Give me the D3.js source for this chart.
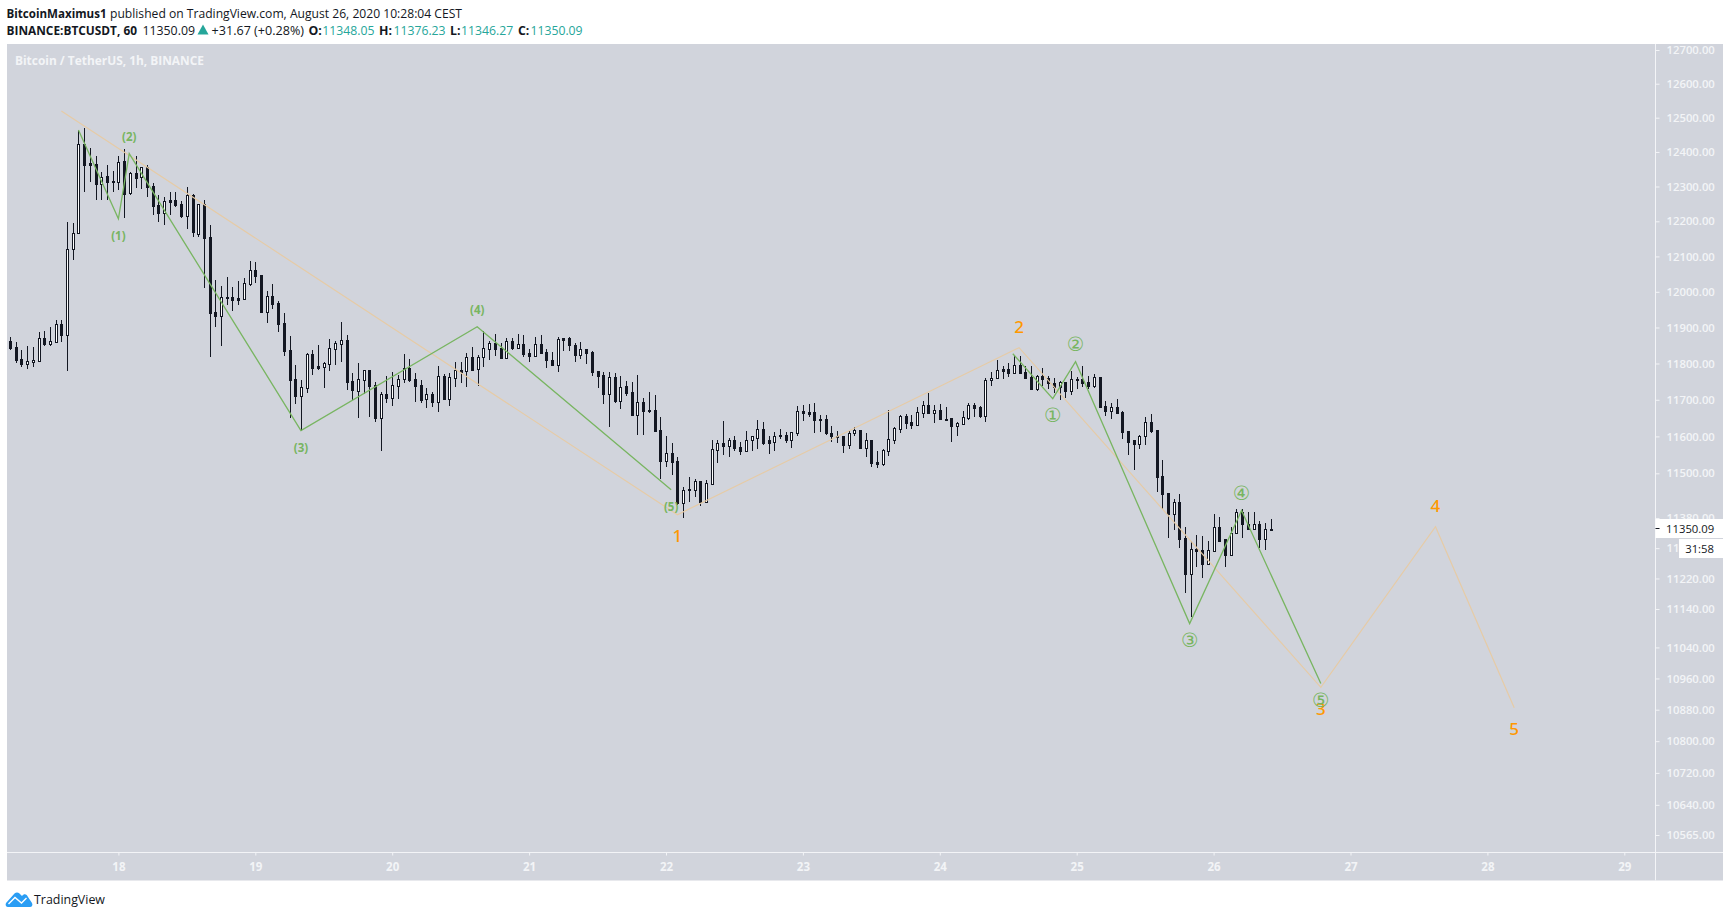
<!DOCTYPE html>
<html>
<head>
<meta charset="utf-8">
<title>BTCUSDT</title>
<script src="https://cdnjs.cloudflare.com/ajax/libs/d3/7.8.5/d3.min.js"></script>
<style>
    html, body { margin: 0; padding: 0; background: #fff; }
    svg { display: block; }
</style>
</head>
<body>
<div id="chart"></div>
<script>
// candles, one per hour, first one is Aug 17 05:00 (hour 0 = Aug 18 00:00)
const firstHour = -19;

const opens = [
    11863,11846,11813,11799,11805,11808,11871,11855,11860,11910,
    11880,12121,12167,12424,12369,12366,12308,12331,12316,12313,
    12374,12281,12340,12328,12357,12302,12247,12224,12261,12261,
    12250,12215,12276,12164,12250,12155,11943,11932,11986,11986,
    11983,11980,12023,12062,12048,11943,11989,11969,11913,11838,
    11758,11711,11733,11827,11794,11791,11799,11841,11855,11866,
    11752,11725,11755,11783,11741,11651,11717,11706,11739,11758,
    11788,11758,11741,11703,11717,11695,11766,11703,11761,11783,
    11780,11819,11786,11819,11841,11857,11844,11816,11863,11844,
    11855,11830,11821,11855,11832,11810,11797,11871,11871,11852,
    11824,11841,11832,11780,11769,11717,11763,11697,11739,11722,
    11659,11695,11673,11673,11618,11534,11556,11534,11421,11459,
    11456,11478,11424,11472,11564,11583,11575,11591,11572,11561,
    11589,11597,11621,11589,11586,11605,11605,11591,11610,11670,
    11667,11667,11648,11648,11610,11602,11602,11577,11608,11618,
    11569,11591,11531,11526,11561,11591,11621,11656,11640,11632,
    11664,11686,11664,11673,11648,11651,11629,11635,11651,11686,
    11681,11656,11755,11761,11786,11786,11774,11797,11777,11763,
    11730,11766,11761,11747,11736,11750,11725,11758,11758,11750,
    11739,11763,11684,11670,11681,11667,11616,11589,11580,11602,
    11640,11618,11494,11448,11392,11424,11328,11233,11299,11296,
    11259,11293,11357,11323,11283,11341,11397,11365,11352,11363,
    11323,11348.05
];
const highs = [
    11874,11860,11838,11849,11846,11888,11891,11902,11921,11921,
    12198,12196,12464,12470,12412,12389,12343,12363,12345,12389,
    12409,12343,12389,12357,12363,12310,12276,12270,12284,12284,
    12258,12299,12279,12250,12261,12190,12034,12017,12043,12014,
    12031,12040,12087,12084,12048,12003,12023,11974,11940,11877,
    11797,11755,11830,11838,11852,11805,11869,11863,11916,11880,
    11774,11802,11783,11783,11750,11722,11766,11777,11769,11827,
    11813,11774,11755,11733,11722,11794,11772,11774,11805,11805,
    11830,11846,11824,11891,11863,11882,11857,11871,11871,11882,
    11880,11841,11874,11880,11841,11832,11874,11871,11874,11857,
    11860,11841,11835,11780,11777,11777,11774,11766,11752,11750,
    11769,11706,11722,11714,11654,11602,11583,11545,11464,11491,
    11486,11478,11483,11591,11591,11643,11597,11602,11586,11616,
    11602,11646,11640,11600,11613,11621,11613,11613,11684,11686,
    11689,11692,11659,11659,11629,11616,11602,11616,11626,11618,
    11608,11591,11559,11567,11673,11626,11659,11662,11659,11681,
    11697,11719,11686,11689,11681,11651,11640,11670,11692,11692,
    11684,11761,11777,11810,11794,11802,11824,11821,11794,11794,
    11769,11788,11766,11761,11752,11750,11780,11763,11794,11766,
    11772,11763,11697,11692,11703,11670,11616,11591,11605,11654,
    11662,11618,11537,11448,11432,11445,11357,11320,11336,11333,
    11320,11392,11384,11323,11355,11403,11403,11397,11395,11373,
    11368,11376.23
];
const lows = [
    11838,11802,11791,11786,11791,11808,11849,11849,11857,11860,
    11780,12090,12164,12284,12313,12261,12261,12261,12284,12290,
    12210,12276,12296,12293,12270,12218,12198,12190,12218,12241,
    12210,12178,12155,12155,12012,11819,11902,11849,11963,11946,
    11963,11977,12017,12026,11940,11913,11952,11888,11821,11651,
    11689,11616,11719,11769,11783,11733,11780,11797,11805,11728,
    11700,11651,11717,11654,11640,11561,11692,11684,11703,11747,
    11750,11695,11692,11678,11681,11667,11700,11684,11736,11747,
    11736,11780,11739,11791,11810,11821,11813,11813,11838,11841,
    11819,11805,11819,11827,11788,11794,11777,11835,11835,11805,
    11813,11799,11766,11733,11689,11626,11692,11675,11711,11659,
    11605,11605,11664,11613,11486,11518,11496,11416,11379,11424,
    11437,11413,11424,11472,11529,11550,11545,11559,11550,11561,
    11561,11567,11577,11553,11559,11594,11583,11569,11600,11643,
    11654,11608,11613,11605,11586,11583,11556,11567,11600,11567,
    11545,11518,11515,11521,11548,11580,11610,11621,11621,11629,
    11651,11662,11637,11646,11643,11586,11602,11635,11646,11654,
    11651,11640,11739,11758,11758,11763,11774,11772,11758,11730,
    11725,11739,11730,11719,11700,11706,11714,11730,11736,11730,
    11733,11678,11656,11648,11662,11594,11550,11510,11567,11577,
    11608,11451,11403,11328,11347,11301,11181,11118,11251,11222,
    11259,11293,11317,11251,11283,11341,11328,11347,11352,11301,
    11296,11346.27
];
const closes = [
    11844,11810,11799,11808,11810,11871,11855,11863,11910,11880,
    12121,12167,12424,12363,12363,12308,12328,12313,12313,12371,
    12279,12340,12325,12357,12299,12244,12224,12258,12255,12247,
    12215,12276,12170,12250,12152,11940,11932,11986,11983,11977,
    11977,12026,12062,12045,11943,11989,11966,11910,11835,11755,
    11711,11736,11827,11788,11788,11802,11844,11857,11866,11750,
    11728,11758,11783,11739,11651,11717,11706,11741,11758,11788,
    11755,11739,11700,11717,11695,11766,11703,11763,11783,11777,
    11819,11783,11819,11844,11857,11841,11816,11863,11844,11855,
    11827,11821,11855,11830,11810,11797,11869,11866,11852,11824,
    11841,11830,11777,11766,11717,11763,11697,11736,11719,11659,
    11695,11670,11670,11616,11534,11556,11531,11421,11456,11454,
    11478,11424,11475,11567,11583,11575,11591,11569,11561,11591,
    11600,11621,11583,11583,11602,11600,11591,11613,11670,11664,
    11662,11646,11646,11608,11600,11600,11577,11610,11618,11569,
    11591,11529,11526,11564,11594,11624,11656,11637,11632,11667,
    11686,11664,11673,11648,11646,11629,11637,11654,11686,11678,
    11656,11755,11761,11783,11780,11774,11797,11774,11761,11730,
    11766,11758,11747,11736,11750,11725,11758,11755,11747,11739,
    11763,11681,11670,11681,11664,11613,11586,11580,11602,11640,
    11616,11491,11445,11392,11424,11325,11233,11299,11293,11259,
    11296,11357,11320,11283,11339,11397,11365,11352,11363,11323,
    11352,11350.09
];

// axis ticks
const priceTicks = [12700,12600,12500,12400,12300,12200,12100,12000,11900,11800,11700,11600,
    11500,11380,11300,11220,11140,11040,10960,10880,10800,10720,10640,10565];
const dayTicks = [18,19,20,21,22,23,24,25,26,27,28,29];
const lastPrice = 11350.09;

// elliott wave drawings, hours since Aug 18 00:00
const orangeHours = [-10, 98, 157.9, 210.8, 230.9, 244.7];
const orangePrices = [12520, 11389, 11844, 10937, 11357, 10885];
const orangeLabels = ["", "1", "2", "3", "4", "5"];

const greenAHours = [-7, 0, 1.9, 32, 62.9, 96.9];
const greenAPrices = [12464, 12207, 12395, 11616, 11902, 11456];
const greenALabels = ["", "(1)", "(2)", "(3)", "(4)", "(5)"];

const greenBHours = [156.8, 163.8, 167.8, 187.8, 196.9, 210.8];
const greenBPrices = [11827, 11703, 11805, 11102, 11400, 10947];
const greenBLabels = ["", "①", "②", "③", "④", "⑤"];

const width = 1730;
const height = 918;
const plotLeft = 7, plotRight = 1723, plotTop = 44, plotBottom = 880.5;
const axisX = 1655.5, axisY = 852.5;
const bg = "#d1d4dc", axisColor = "#f3f4f7", dark = "#131722", teal = "#26a69a";
const greenColor = "#78b561", orangeLine = "#e6cba6", orangeText = "#ff9800";
const font = "'Open Sans', sans-serif";

const candles = opens.map((o, i) => ({
    hour: firstHour + i, open: o, high: highs[i], low: lows[i], close: closes[i]
}));

// SCALES
const x = d3.scaleLinear().domain([0, 264]).range([118.4, 1624.3]);
const y = d3.scaleLog().domain([10565, 12700]).range([835, 50]);

const svg = d3.select("#chart").append("svg")
    .attr("width", width)
    .attr("height", height)
    .attr("font-family", font);

svg.append("rect")
    .attr("x", plotLeft).attr("y", plotTop)
    .attr("width", plotRight - plotLeft).attr("height", plotBottom - plotTop)
    .attr("fill", bg);

// AXES
const yAxis = svg.append("g")
    .attr("transform", `translate(${axisX}, 0)`)
    .call(d3.axisRight(y).tickValues(priceTicks).tickSize(4).tickPadding(7).tickFormat(d => d.toFixed(2)));
yAxis.select(".domain").remove();
yAxis.selectAll("line").attr("stroke", axisColor);
yAxis.selectAll("text").attr("fill", axisColor).attr("font-size", 11.3).attr("font-weight", 600).attr("font-family", font);

const xAxis = svg.append("g")
    .attr("transform", `translate(0, ${axisY})`)
    .call(d3.axisBottom(x).tickValues(dayTicks.map((d, i) => i * 24)).tickSize(3).tickPadding(7)
        .tickFormat((d, i) => dayTicks[i]));
xAxis.select(".domain").remove();
xAxis.selectAll("line").attr("stroke", axisColor);
xAxis.selectAll("text").attr("fill", axisColor).attr("font-size", 11.5).attr("font-weight", 700).attr("font-family", font);

svg.append("line").attr("x1", axisX).attr("x2", axisX).attr("y1", plotTop).attr("y2", plotBottom)
    .attr("stroke", axisColor);
svg.append("line").attr("x1", plotLeft).attr("x2", plotRight).attr("y1", axisY).attr("y2", axisY)
    .attr("stroke", axisColor);

// CANDLES
const candleG = svg.append("g").attr("shape-rendering", "crispEdges");
const px = d => Math.round(x(d.hour));

candleG.selectAll("line")
    .data(candles)
    .join("line")
    .attr("x1", d => px(d) + 0.5)
    .attr("x2", d => px(d) + 0.5)
    .attr("y1", d => Math.round(y(d.high)))
    .attr("y2", d => Math.round(y(d.low)))
    .attr("stroke", dark);

candleG.selectAll("rect")
    .data(candles)
    .join("rect")
    .attr("x", d => px(d) - 0.5)
    .attr("y", d => Math.round(y(Math.max(d.open, d.close))) + 0.5)
    .attr("width", 2)
    .attr("height", d => Math.max(Math.round(y(Math.min(d.open, d.close))) - Math.round(y(Math.max(d.open, d.close))), 1))
    .attr("fill", d => d.close >= d.open ? "#fff" : dark)
    .attr("stroke", dark);

// WAVES
function drawWave(hours, prices, labels, lineColor, lineWidth, textColor, size, weight, offset, family) {
    const pts = hours.map((h, i) => [x(h), y(prices[i])]);
    svg.append("path")
        .attr("d", d3.line()(pts))
        .attr("fill", "none")
        .attr("stroke", lineColor)
        .attr("stroke-width", lineWidth);
    svg.append("g").selectAll("text")
        .data(labels)
        .join("text")
        .attr("x", (d, i) => pts[i][0])
        .attr("y", (d, i) => pts[i][1] + (i % 2 ? offset : -offset))
        .attr("text-anchor", "middle")
        .attr("dominant-baseline", "central")
        .attr("fill", textColor)
        .attr("font-size", size)
        .attr("font-weight", weight)
        .attr("font-family", family)
        .text(d => d);
}
drawWave(orangeHours, orangePrices, orangeLabels, orangeLine, 1.2, orangeText, 17, 500, 21, "'Noto Sans', sans-serif");
drawWave(greenAHours, greenAPrices, greenALabels, greenColor, 1.3, greenColor, 11.5, 700, 17, font);
drawWave(greenBHours, greenBPrices, greenBLabels, greenColor, 1.3, greenColor, 19.5, 400, 17, "'DejaVu Sans', sans-serif");

// PRICE LABELS
svg.append("text")
    .attr("x", 15).attr("y", 60)
    .attr("dominant-baseline", "central")
    .attr("fill", axisColor).attr("font-size", 12).attr("font-weight", 700)
    .attr("textLength", 189).attr("lengthAdjust", "spacingAndGlyphs")
    .text("Bitcoin / TetherUS, 1h, BINANCE");

svg.append("rect").attr("x", axisX).attr("y", 519).attr("width", plotRight - axisX).attr("height", 19).attr("fill", "#fff");
svg.append("line").attr("x1", axisX).attr("x2", axisX + 4).attr("y1", 528.5).attr("y2", 528.5).attr("stroke", dark);
svg.append("text").attr("x", axisX + 10.5).attr("y", 528.5)
    .attr("dominant-baseline", "central").attr("font-size", 11.3).attr("fill", dark)
    .text(lastPrice.toFixed(2));
svg.append("rect").attr("x", 1679).attr("y", 539).attr("width", plotRight - 1679).attr("height", 19).attr("fill", "#fff");
svg.append("text").attr("x", 1714).attr("y", 548.5).attr("text-anchor", "end")
    .attr("dominant-baseline", "central").attr("font-size", 11.3).attr("fill", dark)
    .text("31:58");

// HEADER
function headerText(xPos, yPos, str, bold, color, len) {
    const t = svg.append("text")
        .attr("x", xPos).attr("y", yPos)
        .attr("dominant-baseline", "central")
        .attr("font-size", 12.3)
        .attr("font-weight", bold ? 700 : 400)
        .attr("fill", color || dark)
        .text(str);
    if (len) t.attr("textLength", len).attr("lengthAdjust", "spacingAndGlyphs");
}
headerText(6.5, 13.5, "BitcoinMaximus1", true, dark, 100);
headerText(110, 13.5, "published on TradingView.com, August 26, 2020 10:28:04 CEST", false, dark, 352);
headerText(6.5, 30, "BINANCE:BTCUSDT, 60", true, dark, 130.5);
headerText(142.4, 30, "11350.09", false, dark, 52.6);
svg.append("path").attr("d", "M197.5 34.5 L203 24.5 L208.5 34.5 Z").attr("fill", teal);
headerText(211.6, 30, "+31.67 (+0.28%)", false, dark, 92.4);
headerText(308.5, 30, "O:", true);
headerText(322.2, 30, "11348.05", false, teal, 52.2);
headerText(379, 30, "H:", true);
headerText(393.4, 30, "11376.23", false, teal, 52.2);
headerText(450, 30, "L:", true);
headerText(461, 30, "11346.27", false, teal, 52.2);
headerText(518, 30, "C:", true);
headerText(530.4, 30, "11350.09", false, teal, 52.2);

// LOGO
svg.append("path")
    .attr("d", "M6 903 L14.5 893.5 C16 892 18 892 19.5 893.5 L22 896 C24 893 27 894 28 897 L32 903 C33 905 32 907 30 907 L8 907 C6 907 5 905 6 903 Z")
    .attr("fill", "#2a9df4");
svg.append("path")
    .attr("d", "M8.5 904 L15 897.5 L21.5 903 L26.5 898")
    .attr("fill", "none").attr("stroke", "#fff").attr("stroke-width", 1.4);
svg.append("text")
    .attr("x", 34).attr("y", 899)
    .attr("dominant-baseline", "central")
    .attr("font-size", 12.3).attr("fill", dark)
    .attr("textLength", 71).attr("lengthAdjust", "spacingAndGlyphs")
    .text("TradingView");
</script>
</body>
</html>
